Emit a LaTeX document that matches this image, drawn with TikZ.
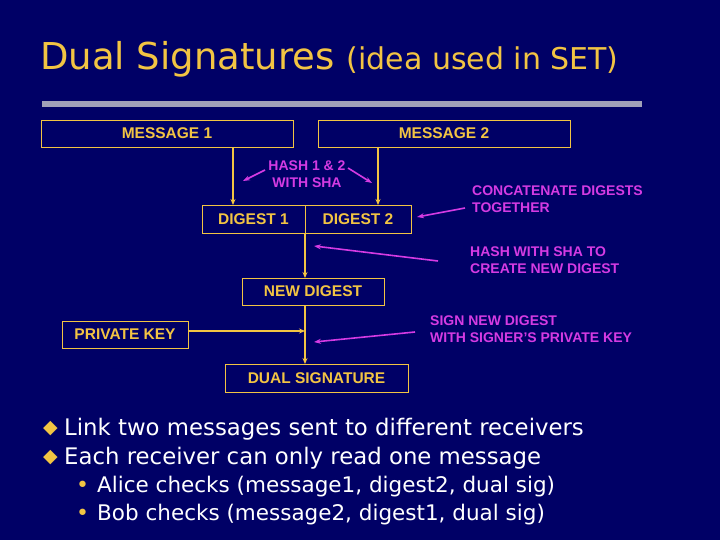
\documentclass[tikz,border=0pt]{standalone}
\usepackage{fontspec}
\setmainfont{Liberation Sans}
\newfontfamily\ttl{DejaVu Sans}
\usetikzlibrary{arrows.meta}
\definecolor{bg}{HTML}{000066}
\definecolor{yel}{HTML}{F2C443}
\definecolor{pnk}{HTML}{D53BE3}
\definecolor{bar}{HTML}{A0A0B8}
\begin{document}
\begin{tikzpicture}[x=1pt,y=-1pt,
  bx/.style={draw=yel,line width=0.9pt,inner sep=0pt,text=yel,font=\bfseries\fontsize{15.5}{17}\selectfont},
  fl/.style={yel,line width=1.4pt,-{Stealth[length=6pt,width=5pt]}},
  pk/.style={pnk,line width=1.6pt,-{Stealth[length=7pt,width=5pt]}},
  pt/.style={text=pnk,font=\bfseries\fontsize{14}{17}\selectfont,align=left,anchor=north west,inner sep=0pt},
  bl/.style={anchor=west,inner sep=0pt,text=white,font=\ttl\fontsize{22.8}{26}\selectfont},
  sb/.style={anchor=west,inner sep=0pt,text=white,font=\ttl\fontsize{21.5}{24}\selectfont}]
\fill[bg] (0,0) rectangle (720,540);
\useasboundingbox (0,0) rectangle (720,540);
\node[anchor=base west,inner sep=0pt,text=yel,font=\ttl] (title) at (40,70)
  {{\fontsize{37}{40}\selectfont Dual Signatures}\hspace{12pt}{\fontsize{30}{32}\selectfont (idea used in SET)}};
\fill[bar] (42,101) rectangle (642,107);
\node[bx,minimum width=252,minimum height=27] (m1) at (167,133.5) {MESSAGE 1};
\node[bx,minimum width=252,minimum height=27] (m2) at (444,133.5) {MESSAGE 2};
\node[bx,minimum width=103,minimum height=28] (d1) at (253.5,219) {DIGEST 1};
\node[bx,minimum width=106,minimum height=28] (d2) at (358,219) {DIGEST 2};
\node[bx,minimum width=142,minimum height=27] (nd) at (313,291.5) {NEW DIGEST};
\node[bx,minimum width=126,minimum height=27] (pkey) at (125,334.5) {PRIVATE KEY};
\node[bx,minimum width=183,minimum height=28] (ds) at (316.5,378) {DUAL SIGNATURE};
\coordinate (j) at (305,233);
\coordinate (k) at (305,331);
\draw[fl] (233,147) -- (233,205);
\draw[fl] (378,147) -- (378,205);
\draw[fl] (j) -- (305,278);
\draw[yel,line width=1.4pt] (305,305) -- (k);
\draw[fl] (k) -- (305,364);
\draw[fl] (pkey.east |- k) -- (k);
\node[text=pnk,font=\bfseries\fontsize{14}{17}\selectfont,align=center,inner sep=0pt] (h12) at (307,174) {HASH 1 \& 2\\WITH SHA};
\coordinate (a1) at (243,181); \coordinate (a2) at (372,183);
\draw[pk] (265,170) -- (a1);
\draw[pk] (348,168) -- (a2);
\node[pt] (cat) at (472,186) {CONCATENATE DIGESTS\\TOGETHER};
\coordinate (a3) at (417,217);
\draw[pk] (465,208) -- (a3);
\node[pt] (hs) at (470,247) {HASH WITH SHA TO\\CREATE NEW DIGEST};
\coordinate (a4) at (314,246);
\draw[pk] (438,261) -- (a4);
\node[pt] (sg) at (430,316) {SIGN NEW DIGEST\\WITH SIGNER’S PRIVATE KEY};
\coordinate (a5) at (314,342);
\draw[pk] (415,332) -- (a5);
\node[anchor=west,inner sep=0pt,text=yel,font=\ttl\fontsize{19}{20}\selectfont] (b1) at (43,429) {◆};
\node[bl] (t1) at (64,429) {Link two messages sent to different receivers};
\node[anchor=west,inner sep=0pt,text=yel,font=\ttl\fontsize{19}{20}\selectfont] (b2) at (43,458) {◆};
\node[bl] (t2) at (64,458) {Each receiver can only read one message};
\node[anchor=west,inner sep=0pt,text=yel,font=\ttl\fontsize{22}{24}\selectfont] (b3) at (76,487) {•};
\node[sb] (t3) at (97,487) {Alice checks (message1, digest2, dual sig)};
\node[anchor=west,inner sep=0pt,text=yel,font=\ttl\fontsize{22}{24}\selectfont] (b4) at (76,515) {•};
\node[sb] (t4) at (97,515) {Bob checks (message2, digest1, dual sig)};
\end{tikzpicture}
\end{document}
